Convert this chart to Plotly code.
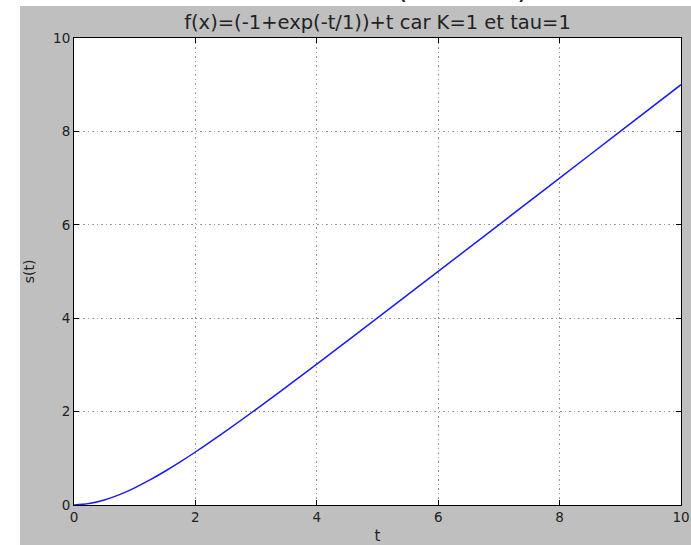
import plotly.graph_objects as go

# values
t_values = [0, 0.25, 0.5, 0.75, 1.0, 1.25, 1.5, 1.75, 2.0, 2.5, 3.0, 3.5, 4.0, 5.0, 6.0, 7.0, 8.0, 9.0, 10.0]
s_values = [0, 0.03, 0.107, 0.222, 0.368, 0.537, 0.723, 0.924, 1.135, 1.582, 2.05, 2.53, 3.018, 4.007, 5.002, 6.0, 7.0, 8.0, 9.0]
x_ticks = [0, 2, 4, 6, 8, 10]
y_ticks = [0, 2, 4, 6, 8, 10]

title_text = "f(x)=(-1+exp(-t/1))+t car K=1 et tau=1"
font_family = "DejaVu Sans"

fig = go.Figure()
fig.add_trace(go.Scatter(x=t_values, y=s_values, mode="lines",
                         line=dict(color="#1a1aff", width=1.5, shape="spline"),
                         showlegend=False, hoverinfo="skip"))

W, H = 691, 545
L, R, T, B = 74, 10, 38, 40
pw, ph = W - L - R, H - T - B

def px(xp):
    return (xp - L) / pw

def py(yp):
    return (H - B - yp) / ph

axis_common = dict(showline=True, linecolor="black", linewidth=1, mirror="ticks",
                   ticks="inside", ticklen=5, tickcolor="black", automargin=False,
                   showgrid=True, gridcolor="#9a9a9a", griddash="1.5px,3px", gridwidth=1,
                   zeroline=False, tickfont=dict(family=font_family, size=13.5, color="#222"))

fig.update_layout(
    width=W, height=H,
    margin=dict(l=L, r=R, t=T, b=B, pad=0, autoexpand=False),
    paper_bgcolor="#bfbfbf", plot_bgcolor="white",
    title=dict(text=title_text, x=0.5, xref="paper", xanchor="center",
               y=1 - 22 / H, yref="container", yanchor="middle",
               font=dict(family=font_family, size=19.5, color="#222")),
    xaxis=dict(range=[0, 10], tickvals=x_ticks, **axis_common,
               title=dict(text="t", standoff=14, font=dict(family=font_family, size=15, color="#222"))),
    yaxis=dict(range=[0, 10], tickvals=y_ticks, **axis_common,
               title=dict(text="s(t)", standoff=15, font=dict(family=font_family, size=14, color="#222"))),
    shapes=[
        dict(type="rect", xref="paper", yref="paper", x0=px(0), x1=px(20), y0=py(H), y1=py(0),
             fillcolor="white", line=dict(width=0), layer="below"),
        dict(type="rect", xref="paper", yref="paper", x0=px(0), x1=px(W), y0=py(6), y1=py(0),
             fillcolor="white", line=dict(width=0), layer="below"),
    ],
    annotations=[
        dict(text="(", xref="paper", yref="paper", x=px(402), y=py(7), xanchor="center", yanchor="bottom",
             showarrow=False, font=dict(family=font_family, size=30, color="#222")),
        dict(text=")", xref="paper", yref="paper", x=px(523), y=py(7), xanchor="center", yanchor="bottom",
             showarrow=False, font=dict(family=font_family, size=30, color="#222")),
    ],
)

fig.write_html("out.html", config={"displayModeBar": False},
               post_script="document.body.style.margin='0';document.body.style.padding='0';")
